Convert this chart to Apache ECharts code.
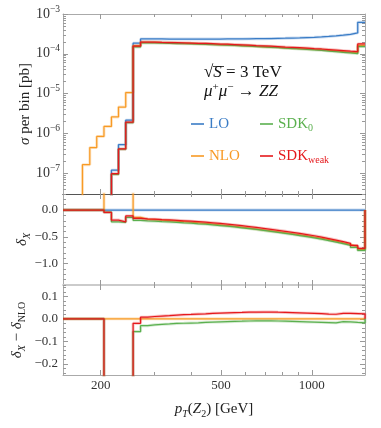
<!DOCTYPE html>
<html>
<head>
<meta charset="utf-8">
<script src="https://cdn.jsdelivr.net/npm/echarts@6/dist/echarts.min.js"></script>
<style>
html,body{margin:0;padding:0;background:#fff;}
#chart{width:381px;height:428px;}
</style>
</head>
<body>
<div id="chart"></div>
<script>
// bin edges in GeV (log spaced), 39 bins
const binEdges = [174,184,194,205,217,229,242,256,271,286,302,319,338,357,377,398,421,445,470,497,
  525,555,587,620,655,692,732,773,817,863,912,964,1019,1077,1138,1203,1271,1343,1419,1500];

// sigma per bin [pb]  (0 = nothing in that bin)
const sigmaLO = [0,0,0,1e-9,1.19e-7,5.2e-7,2.15e-6,1.85e-4,
  2.36e-4,2.36e-4,2.36e-4,2.35e-4,2.35e-4,2.35e-4,2.35e-4,2.35e-4,2.35e-4,2.35e-4,2.35e-4,2.36e-4,2.36e-4,2.37e-4,2.38e-4,2.39e-4,
  2.40e-4,2.42e-4,2.44e-4,2.46e-4,2.49e-4,2.52e-4,2.56e-4,2.60e-4,2.66e-4,2.73e-4,2.82e-4,2.93e-4,3.08e-4,3.35e-4,6.20e-4];
const sigmaNLO = [1.64e-7,4.4e-7,8.4e-7,1.5e-6,2.6e-6,4.6e-6,1.06e-5,1.60e-4,
  1.95e-4,1.94e-4,1.91e-4,1.89e-4,1.86e-4,1.84e-4,1.82e-4,1.79e-4,1.77e-4,1.73e-4,1.70e-4,1.68e-4,1.65e-4,1.61e-4,1.58e-4,1.54e-4,
  1.51e-4,1.48e-4,1.45e-4,1.41e-4,1.38e-4,1.35e-4,1.33e-4,1.29e-4,1.26e-4,1.22e-4,1.18e-4,1.13e-4,1.09e-4,1.06e-4,1.63e-4];
const sigmaSDK0 = [0,0,0,0.96e-9,9.3e-8,4.0e-7,1.86e-6,1.49e-4,
  1.88e-4,1.88e-4,1.85e-4,1.84e-4,1.81e-4,1.79e-4,1.78e-4,1.75e-4,1.73e-4,1.70e-4,1.67e-4,1.65e-4,1.62e-4,1.58e-4,1.56e-4,1.52e-4,
  1.49e-4,1.46e-4,1.43e-4,1.38e-4,1.35e-4,1.32e-4,1.29e-4,1.25e-4,1.22e-4,1.17e-4,1.13e-4,1.09e-4,1.05e-4,1.01e-4,1.52e-4];
const sigmaSDKweak = [0,0,0,0.96e-9,9.7e-8,4.06e-7,1.91e-6,1.56e-4,
  1.97e-4,1.96e-4,1.94e-4,1.92e-4,1.90e-4,1.88e-4,1.86e-4,1.84e-4,1.82e-4,1.79e-4,1.76e-4,1.74e-4,1.71e-4,1.68e-4,1.65e-4,1.61e-4,
  1.58e-4,1.55e-4,1.52e-4,1.48e-4,1.45e-4,1.42e-4,1.39e-4,1.35e-4,1.32e-4,1.28e-4,1.24e-4,1.20e-4,1.16e-4,1.14e-4,1.77e-4];

// relative corrections delta_X
const deltaLO = [0,0,0,0,0,0,0,0,0,0,0,0,0,0,0,0,0,0,0,0,0,0,0,0,0,0,0,0,0,0,0,0,0,0,0,0,0,0,0];
const deltaNLO = [0,0,0,60,25,8,3.9,-0.135,
  -0.172,-0.18,-0.189,-0.198,-0.208,-0.218,-0.227,-0.238,-0.249,-0.262,-0.275,-0.289,-0.304,-0.32,-0.337,-0.354,
  -0.372,-0.39,-0.407,-0.425,-0.444,-0.463,-0.483,-0.504,-0.528,-0.553,-0.58,-0.614,-0.646,-0.683,-0.737];
const deltaSDK0 = [0,0,0,-0.04,-0.22,-0.23,-0.137,-0.192,
  -0.203,-0.207,-0.214,-0.221,-0.229,-0.238,-0.246,-0.256,-0.265,-0.277,-0.289,-0.302,-0.316,-0.331,-0.347,-0.363,
  -0.381,-0.399,-0.417,-0.436,-0.456,-0.476,-0.497,-0.519,-0.544,-0.57,-0.598,-0.627,-0.66,-0.699,-0.755];
const deltaSDKweak = [0,0,0,-0.044,-0.187,-0.22,-0.11,-0.155,
  -0.165,-0.17,-0.177,-0.184,-0.192,-0.2,-0.208,-0.217,-0.227,-0.238,-0.25,-0.263,-0.277,-0.292,-0.308,-0.325,
  -0.342,-0.36,-0.378,-0.397,-0.417,-0.437,-0.458,-0.48,-0.505,-0.532,-0.56,-0.59,-0.622,-0.66,-0.715];

// delta_X - delta_NLO
const diffNLO = [0,0,0,0,0,0,0,0,0,0,0,0,0,0,0,0,0,0,0,0,0,0,0,0,0,0,0,0,0,0,0,0,0,0,0,0,0,0,0];
const diffSDK0 = [0,0,0,-60,-25,-8,-4,-0.057,
  -0.031,-0.027,-0.025,-0.023,-0.021,-0.02,-0.019,-0.018,-0.016,-0.015,-0.014,-0.013,-0.012,-0.011,-0.01,-0.009,
  -0.009,-0.009,-0.01,-0.011,-0.012,-0.013,-0.014,-0.015,-0.016,-0.017,-0.018,-0.013,-0.014,-0.016,-0.018];
const diffSDKweak = [0,0,0,-60,-25,-8,-4,-0.02,
  0.007,0.01,0.012,0.014,0.016,0.018,0.019,0.021,0.022,0.024,0.025,0.026,0.027,0.028,0.029,0.029,
  0.03,0.03,0.029,0.028,0.027,0.026,0.025,0.024,0.023,0.021,0.02,0.024,0.024,0.023,0.022];

// ticks
const xMajorTicks = [200, 500, 1000];
const xMinorTicks = [300, 400, 600, 700, 800, 900];
const sigmaExponents = [-7, -6, -5, -4, -3];
const deltaLabels = [-1.0, -0.5, 0.0];
const diffLabels = [-0.2, -0.1, 0.0, 0.1];

const FONT = 'Liberation Serif';
const C = {lo: '#3a7cc6', nlo: '#f89a25', sdk0: '#5bb04f', weak: '#e5191d'};
const XMIN = 150, XMAX = 1500;
const L10 = Math.log10;

const grids = [
  {left: 63, top: 14, width: 302, height: 180},
  {left: 63, top: 194, width: 302, height: 91},
  {left: 63, top: 285, width: 302, height: 90}
];

function steps(values, lead, tail, floor) {
  const f = v => (floor && !(v > 0)) ? floor : v;
  const pts = [[XMIN, lead]];
  values.forEach((v, i) => pts.push([binEdges[i], f(v)]));
  pts.push([binEdges[binEdges.length - 1], f(values[values.length - 1])]);
  if (tail !== undefined) pts.push([XMAX, tail]);
  return pts;
}

function line(name, color, g, data, z) {
  const base = {type: 'line', xAxisIndex: g, yAxisIndex: g, data: data, step: 'end',
    symbol: 'none', animation: false};
  return [
    Object.assign({}, base, {name: name + ' band', silent: true, z: z,
      lineStyle: {color: color, width: 3, opacity: 0.25}}),
    Object.assign({}, base, {name: name, z: z + 1,
      lineStyle: {color: color, width: 1.25}, itemStyle: {color: color}})
  ];
}

const minus = v => (v < 0 ? '\u2212' : '') + Math.abs(v).toFixed(1);
const labelStyle = {fontFamily: FONT, fontSize: 13, color: '#333'};

const nameStyle = {
  fontFamily: FONT, fontSize: 15, color: '#222',
  rich: {
    n: {fontFamily: FONT, fontSize: 15, lineHeight: 20},
    i: {fontFamily: FONT, fontSize: 15, fontStyle: 'italic', lineHeight: 20},
    s: {fontFamily: FONT, fontSize: 10, lineHeight: 12, verticalAlign: 'bottom'},
    si: {fontFamily: FONT, fontSize: 10, fontStyle: 'italic', lineHeight: 12, verticalAlign: 'bottom'}
  }
};

// x tick axes, drawn in log10 space on top/bottom of each panel
function xTick(g, pos, vals, len, lineColor, lineWidth, withLabels) {
  const ax = {
    type: 'value', gridIndex: g, position: pos, min: L10(XMIN), max: L10(XMAX),
    axisLine: {show: !!lineColor, onZero: false, lineStyle: {color: lineColor || '#999', width: lineWidth || 1}},
    axisTick: {show: true, inside: true, length: len, customValues: vals.map(L10), lineStyle: {color: '#999'}},
    axisLabel: {show: false},
    splitLine: {show: false}
  };
  if (withLabels) {
    ax.axisLabel = Object.assign({show: true, customValues: vals.map(L10), margin: 4,
      formatter: v => String(Math.round(Math.pow(10, v)))}, labelStyle);
    ax.name = '{i|p}{si|T}{n|(}{i|Z}{s|2}{n|) [GeV]}';
    ax.nameLocation = 'middle';
    ax.nameGap = 24;
    ax.nameMoveOverlap = false;
    ax.nameTextStyle = nameStyle;
  }
  return ax;
}

function yTick(g, pos, min, max, vals, len, lineColor, labels, name, nameGap) {
  const ax = {
    type: 'value', gridIndex: g, position: pos, min: min, max: max,
    axisLine: {show: !!lineColor, onZero: false, lineStyle: {color: lineColor || '#999'}},
    axisTick: {show: true, inside: true, length: len, customValues: vals, lineStyle: {color: '#999'}},
    axisLabel: {show: false},
    splitLine: {show: false}
  };
  if (labels) {
    ax.axisLabel = Object.assign({show: true, customValues: vals, margin: 5}, labelStyle, labels);
  }
  if (name) {
    ax.name = name;
    ax.nameLocation = 'middle';
    ax.nameGap = nameGap;
    ax.nameRotate = 90;
    ax.nameMoveOverlap = false;
    ax.nameTextStyle = nameStyle;
  }
  return ax;
}

// minor tick values
const sigmaMin = L10(3e-8), sigmaMax = -3;
const sigmaMinor = [];
for (let n = -8; n <= -4; n++) for (let k = 2; k <= 9; k++) {
  const v = n + L10(k);
  if (v > sigmaMin && v < sigmaMax) sigmaMinor.push(v);
}
const deltaMinor = [];
for (let k = -14; k <= 3; k++) deltaMinor.push(k / 10);
const diffMinor = [];
for (let k = -12; k <= 7; k++) diffMinor.push(k / 50);

const xAxis = [
  {type: 'log', logBase: 10, gridIndex: 0, min: XMIN, max: XMAX, show: false},
  {type: 'log', logBase: 10, gridIndex: 1, min: XMIN, max: XMAX, show: false},
  {type: 'log', logBase: 10, gridIndex: 2, min: XMIN, max: XMAX, show: false},
  xTick(0, 'top', xMajorTicks, 5, '#aaa'), xTick(0, 'top', xMinorTicks, 3),
  xTick(0, 'bottom', xMajorTicks, 5, '#555'), xTick(0, 'bottom', xMinorTicks, 3),
  xTick(1, 'top', xMajorTicks, 5, '#555'), xTick(1, 'top', xMinorTicks, 3),
  xTick(1, 'bottom', xMajorTicks, 5, '#c8c8c8', 1.5), xTick(1, 'bottom', xMinorTicks, 3),
  xTick(2, 'top', xMajorTicks, 5, '#c8c8c8', 1.5), xTick(2, 'top', xMinorTicks, 3),
  xTick(2, 'bottom', xMajorTicks, 5, '#aaa', 1, true), xTick(2, 'bottom', xMinorTicks, 3)
];

const sigmaLabels = {
  margin: 3,
  formatter: v => '{b|10}{s|\u2212' + Math.round(Math.abs(v)) + '}',
  rich: {
    b: {fontFamily: FONT, fontSize: 14, lineHeight: 20, color: '#333'},
    s: {fontFamily: FONT, fontSize: 9.5, lineHeight: 11, verticalAlign: 'top', color: '#333'}
  }
};

const yAxis = [
  {type: 'log', logBase: 10, gridIndex: 0, min: 3e-8, max: 1e-3, show: false},
  {type: 'value', gridIndex: 1, min: -1.4, max: 0.3, show: false},
  {type: 'value', gridIndex: 2, min: -0.25, max: 0.15, show: false},
  yTick(0, 'left', sigmaMin, sigmaMax, sigmaExponents, 5, '#aaa', sigmaLabels,
    '{i|\u03c3}{n| per bin [pb]}', 28),
  yTick(0, 'left', sigmaMin, sigmaMax, sigmaMinor, 3),
  yTick(0, 'right', sigmaMin, sigmaMax, sigmaExponents, 5, '#aaa'),
  yTick(0, 'right', sigmaMin, sigmaMax, sigmaMinor, 3),
  yTick(1, 'left', -1.4, 0.3, deltaLabels, 5, '#aaa', {formatter: minus},
    '{i|\u03b4}{si|X}', 31),
  yTick(1, 'left', -1.4, 0.3, deltaMinor, 3),
  yTick(1, 'right', -1.4, 0.3, deltaLabels, 5, '#aaa'),
  yTick(1, 'right', -1.4, 0.3, deltaMinor, 3),
  yTick(2, 'left', -0.25, 0.15, diffLabels, 5, '#aaa', {formatter: minus},
    '{i|\u03b4}{si|X}{n| \u2212 }{i|\u03b4}{s|NLO}', 36),
  yTick(2, 'left', -0.25, 0.15, diffMinor, 3),
  yTick(2, 'right', -0.25, 0.15, diffLabels, 5, '#aaa'),
  yTick(2, 'right', -0.25, 0.15, diffMinor, 3)
];

const FLOOR = 1e-12;
const series = [].concat(
  line('LO', C.lo, 0, steps(sigmaLO, FLOOR, undefined, FLOOR), 2),
  line('NLO', C.nlo, 0, steps(sigmaNLO, FLOOR, undefined, FLOOR), 4),
  line('SDK0', C.sdk0, 0, steps(sigmaSDK0, FLOOR, undefined, FLOOR), 6),
  line('SDKweak', C.weak, 0, steps(sigmaSDKweak, FLOOR, undefined, FLOOR), 8),
  line('LO', C.lo, 1, steps(deltaLO, 0, 0), 2),
  line('NLO', C.nlo, 1, steps(deltaNLO, 0, 0), 4),
  line('SDK0', C.sdk0, 1, steps(deltaSDK0, 0, 0), 6),
  line('SDKweak', C.weak, 1, steps(deltaSDKweak, 0, 0), 8),
  line('NLO', C.nlo, 2, steps(diffNLO, 0, 0), 4),
  line('SDK0', C.sdk0, 2, steps(diffSDK0, 0, 0), 6),
  line('SDKweak', C.weak, 2, steps(diffSDKweak, 0, 0), 8)
);

const legendText = {fontFamily: FONT, fontSize: 15, lineHeight: 18};
const option = {
  backgroundColor: '#fff',
  animation: false,
  grid: grids,
  xAxis: xAxis,
  yAxis: yAxis,
  legend: [
    {left: 186, top: 110, orient: 'vertical', icon: 'rect', itemWidth: 13, itemHeight: 1.6, itemGap: 14,
      selectedMode: false, textStyle: legendText,
      data: [{name: 'LO', textStyle: {color: C.lo}}, {name: 'NLO', textStyle: {color: C.nlo}}]},
    {left: 255, top: 110, orient: 'vertical', icon: 'rect', itemWidth: 13, itemHeight: 1.6, itemGap: 14,
      selectedMode: false,
      formatter: n => n === 'SDK0' ? '{gn|SDK}{gs|0}' : '{rn|SDK}{rs|weak}',
      textStyle: Object.assign({}, legendText, {rich: {
        gn: {fontFamily: FONT, fontSize: 15, color: C.sdk0, lineHeight: 18},
        gs: {fontFamily: FONT, fontSize: 10, color: C.sdk0, lineHeight: 11, verticalAlign: 'bottom'},
        rn: {fontFamily: FONT, fontSize: 15, color: C.weak, lineHeight: 18},
        rs: {fontFamily: FONT, fontSize: 10, color: C.weak, lineHeight: 11, verticalAlign: 'bottom'}
      }}),
      data: ['SDK0', 'SDKweak']}
  ],
  graphic: [
    {type: 'text', left: 204, top: 64, z: 100, style: {
      text: '{n|\u221a}{i|S}{n| = 3 TeV}', fill: '#111',
      rich: {n: {fontFamily: FONT, fontSize: 17, fill: '#111'}, i: {fontFamily: FONT, fontSize: 17, fontStyle: 'italic', fill: '#111'}}}},
    {type: 'line', z: 100, shape: {x1: 213, y1: 66.5, x2: 224, y2: 66.5}, style: {stroke: '#111', lineWidth: 0.8}},
    {type: 'text', left: 204, top: 82, z: 100, style: {
      text: '{i|\u03bc}{s|+}{i|\u03bc}{s|\u2212}{n| \u2192 }{i|ZZ}', fill: '#111',
      rich: {
        n: {fontFamily: FONT, fontSize: 17, lineHeight: 20, fill: '#111'},
        i: {fontFamily: FONT, fontSize: 17, fontStyle: 'italic', lineHeight: 20, fill: '#111'},
        s: {fontFamily: FONT, fontSize: 11, lineHeight: 12, verticalAlign: 'top', fill: '#111'}
      }}}
  ],
  series: series
};

const chart = echarts.init(document.getElementById('chart'));
chart.setOption(option);
</script>
</body>
</html>
